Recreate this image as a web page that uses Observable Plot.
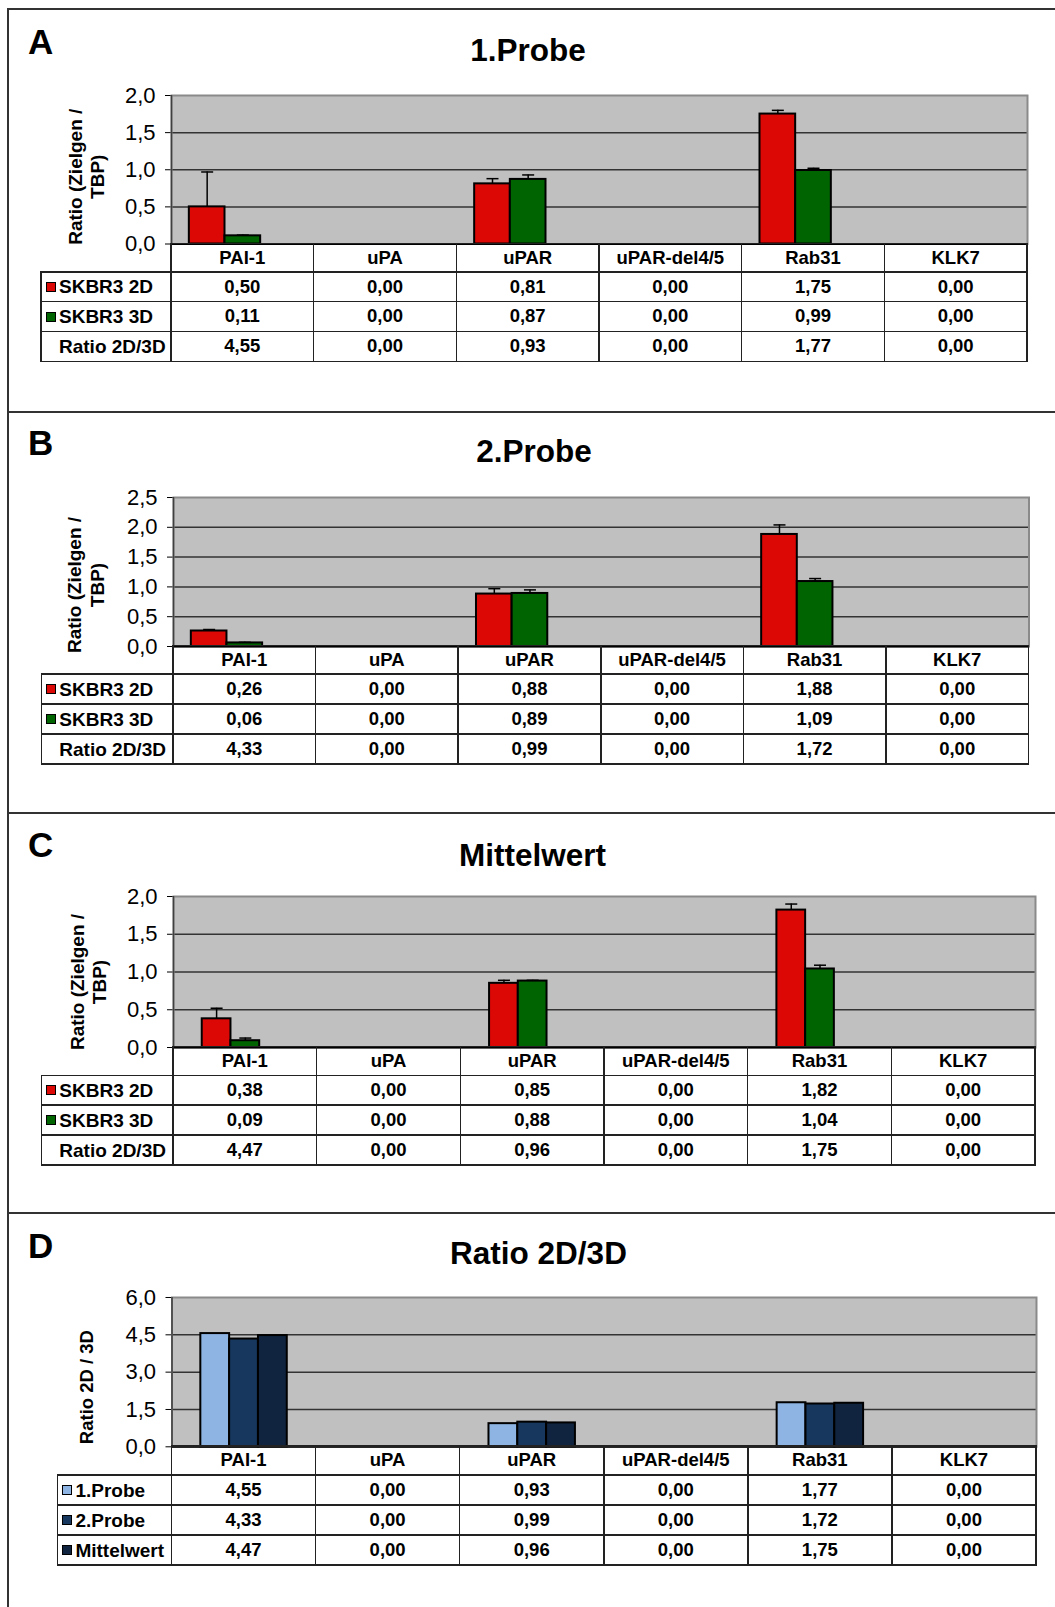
<!DOCTYPE html>
<html>
<head>
<meta charset="utf-8">
<script src="https://cdn.jsdelivr.net/npm/d3@7"></script>
<script src="https://cdn.jsdelivr.net/npm/@observablehq/plot@0.6"></script>
<style>
html, body { margin: 0; padding: 0; background: #fff; }
#page { position: relative; width: 1055px; height: 1607px; overflow: hidden;
        font-family: "Liberation Sans", Arial, sans-serif; color: #000; }
.abs { position: absolute; }
.letter { position: absolute; font-weight: bold; font-size: 35px; line-height: 1; white-space: nowrap; }
.title { position: absolute; font-weight: bold; font-size: 31.5px; line-height: 1; white-space: nowrap; transform: translateX(-50%); }
.line { position: absolute; background: #222; }
.frameline { position: absolute; background: #333; }
.cell { position: absolute; display: flex; align-items: center; justify-content: center;
        font-weight: bold; font-size: 18.5px; line-height: 1; white-space: nowrap; }
.rowlabel { justify-content: flex-start; font-size: 19px; }
.key { display: inline-block; width: 8px; height: 8px; border: 1.5px solid #000; margin-right: 3px; flex: none; }
</style>
</head>
<body>
<div id="page"></div>
<script>
// ---------------- data ----------------
const categories = ["PAI-1", "uPA", "uPAR", "uPAR-del4/5", "Rab31", "KLK7"];

// A – 1.Probe
const probe1_2D     = [0.50, 0.00, 0.81, 0.00, 1.75, 0.00];
const probe1_3D     = [0.11, 0.00, 0.87, 0.00, 0.99, 0.00];
const probe1_ratio  = [4.55, 0.00, 0.93, 0.00, 1.77, 0.00];
const probe1_2D_err = [0.47, 0.00, 0.07, 0.00, 0.05, 0.00];
const probe1_3D_err = [0.01, 0.00, 0.06, 0.00, 0.03, 0.00];

// B – 2.Probe
const probe2_2D     = [0.26, 0.00, 0.88, 0.00, 1.88, 0.00];
const probe2_3D     = [0.06, 0.00, 0.89, 0.00, 1.09, 0.00];
const probe2_ratio  = [4.33, 0.00, 0.99, 0.00, 1.72, 0.00];
const probe2_2D_err = [0.025, 0.00, 0.09, 0.00, 0.16, 0.00];
const probe2_3D_err = [0.01, 0.00, 0.06, 0.00, 0.05, 0.00];

// C – Mittelwert
const mean_2D       = [0.38, 0.00, 0.85, 0.00, 1.82, 0.00];
const mean_3D       = [0.09, 0.00, 0.88, 0.00, 1.04, 0.00];
const mean_ratio    = [4.47, 0.00, 0.96, 0.00, 1.75, 0.00];
const mean_2D_err   = [0.14, 0.00, 0.04, 0.00, 0.08, 0.00];
const mean_3D_err   = [0.035, 0.00, 0.01, 0.00, 0.05, 0.00];

// D – Ratio 2D/3D
const ratio_probe1  = [4.55, 0.00, 0.93, 0.00, 1.77, 0.00];
const ratio_probe2  = [4.33, 0.00, 0.99, 0.00, 1.72, 0.00];
const ratio_mean    = [4.47, 0.00, 0.96, 0.00, 1.75, 0.00];

const seriesNamesABC = ["SKBR3 2D", "SKBR3 3D", "Ratio 2D/3D"];
const seriesNamesD   = ["1.Probe", "2.Probe", "Mittelwert"];
const panelLetters   = ["A", "B", "C", "D"];
const panelTitles    = ["1.Probe", "2.Probe", "Mittelwert", "Ratio 2D/3D"];
const yLabelABC      = "Ratio (Zielgen /\nTBP)";
const yLabelD        = "Ratio 2D / 3D";
const yTicksA        = [0, 0.5, 1.0, 1.5, 2.0];
const yTicksB        = [0, 0.5, 1.0, 1.5, 2.0, 2.5];
const yTicksC        = [0, 0.5, 1.0, 1.5, 2.0];
const yTicksD        = [0, 1.5, 3.0, 4.5, 6.0];

// ---------------- styles ----------------
const RED = "#dc0806", GREEN = "#006400";
const BLUE1 = "#8db4e2", BLUE2 = "#17375e", BLUE3 = "#10243f";

const panels = [
  { letter: panelLetters[0], title: panelTitles[0], yLabel: yLabelABC, yTicks: yTicksA, series: [
    { name: seriesNamesABC[0], values: probe1_2D, err: probe1_2D_err, color: RED, plotted: true },
    { name: seriesNamesABC[1], values: probe1_3D, err: probe1_3D_err, color: GREEN, plotted: true },
    { name: seriesNamesABC[2], values: probe1_ratio, err: null, color: null, plotted: false } ] },
  { letter: panelLetters[1], title: panelTitles[1], yLabel: yLabelABC, yTicks: yTicksB, series: [
    { name: seriesNamesABC[0], values: probe2_2D, err: probe2_2D_err, color: RED, plotted: true },
    { name: seriesNamesABC[1], values: probe2_3D, err: probe2_3D_err, color: GREEN, plotted: true },
    { name: seriesNamesABC[2], values: probe2_ratio, err: null, color: null, plotted: false } ] },
  { letter: panelLetters[2], title: panelTitles[2], yLabel: yLabelABC, yTicks: yTicksC, series: [
    { name: seriesNamesABC[0], values: mean_2D, err: mean_2D_err, color: RED, plotted: true },
    { name: seriesNamesABC[1], values: mean_3D, err: mean_3D_err, color: GREEN, plotted: true },
    { name: seriesNamesABC[2], values: mean_ratio, err: null, color: null, plotted: false } ] },
  { letter: panelLetters[3], title: panelTitles[3], yLabel: yLabelD, yTicks: yTicksD, series: [
    { name: seriesNamesD[0], values: ratio_probe1, err: null, color: BLUE1, plotted: true },
    { name: seriesNamesD[1], values: ratio_probe2, err: null, color: BLUE2, plotted: true },
    { name: seriesNamesD[2], values: ratio_mean, err: null, color: BLUE3, plotted: true } ] }
];

// layout (pixel geometry of each panel)
const layouts = [
  { top: 9.3,    letterX: 28, letterBase: 53.3, titleX: 528,   titleBase: 62,    plotLeft: 171,   plotRight: 1027,   plotTop: 95,     plotBottom: 243.5,  labelLeft: 41,   rows: [28.5, 29.7, 29.8, 29.8], barW: 0.25, yLabelCx: 85.5, yLabelDy: 7,  yLabelSize: 19 },
  { top: 411.7,  letterX: 28, letterBase: 455,  titleX: 534,   titleBase: 463,   plotLeft: 173,   plotRight: 1028.5, plotTop: 496.7,  plotBottom: 645.7,  labelLeft: 41.3, rows: [28.3, 30, 30, 30],       barW: 0.25, yLabelCx: 85,   yLabelDy: 13, yLabelSize: 19 },
  { top: 812.7,  letterX: 28, letterBase: 856.5,titleX: 532.6, titleBase: 866.7, plotLeft: 173,   plotRight: 1035,   plotTop: 895.7,  plotBottom: 1046.7, labelLeft: 41.3, rows: [28.6, 29.7, 30, 30],     barW: 0.2,  yLabelCx: 87.6, yLabelDy: 10, yLabelSize: 19 },
  { top: 1213.3, letterX: 28, letterBase: 1258, titleX: 538.5, titleBase: 1265,  plotLeft: 171.5, plotRight: 1036,   plotTop: 1296.7, plotBottom: 1446,   labelLeft: 57.4, rows: [29, 30, 30, 30],         barW: 0.2,  yLabelCx: 85,   yLabelDy: 15, yLabelSize: 18.5 }
];

const fmt1 = d => d.toFixed(1).replace(".", ",");
const fmt2 = d => d.toFixed(2).replace(".", ",");
const capSymbol = { draw(ctx, size) { const r = Math.sqrt(size / Math.PI); ctx.moveTo(-r, 0); ctx.lineTo(r, 0); } };
const FONT = "'Liberation Sans', Arial, sans-serif";

const page = document.getElementById("page");
function el(cls, css, text) {
  const d = document.createElement("div");
  d.className = cls;
  Object.assign(d.style, css);
  if (text != null) d.textContent = text;
  page.appendChild(d);
  return d;
}
const px = v => v + "px";

function makeChart(p, L) {
  const yMax = p.yTicks[p.yTicks.length - 1];
  const nSlots = p.series.length;
  const pad = (1 - nSlots * L.barW) / 2;
  const bars = [];
  p.series.forEach((s, si) => {
    if (!s.plotted) return;
    s.values.forEach((v, ci) => {
      if (v > 0) bars.push({ ci, si, v, err: s.err ? s.err[ci] : 0, color: s.color });
    });
  });
  const x1 = d => d.ci + pad + d.si * L.barW;
  const x2 = d => x1(d) + L.barW;
  const xc = d => x1(d) + L.barW / 2;
  const errBars = bars.filter(d => d.err > 0);
  const mt = 20, mb = 6;
  const h = L.plotBottom - L.plotTop;
  const svg = Plot.plot({
    width: 1055, height: h + mt + mb,
    marginLeft: L.plotLeft, marginRight: 1055 - L.plotRight, marginTop: mt, marginBottom: mb,
    x: { domain: [0, categories.length], axis: null },
    y: { domain: [0, yMax], ticks: p.yTicks, tickFormat: fmt1, tickSize: 6, tickPadding: 10, label: null },
    color: { type: "identity" },
    style: { fontFamily: FONT, fontSize: "22px", color: "#000", background: "transparent", overflow: "visible" },
    marks: [
      Plot.frame({ fill: "#c0c0c0", stroke: "none" }),
      Plot.ruleY(p.yTicks.filter(t => t > 0 && t < yMax), { stroke: "#333", strokeWidth: 1.5 }),
      Plot.frame({ fill: "none", stroke: "#8a8a8a", strokeWidth: 2 }),
      Plot.ruleX([0], { stroke: "#404040", strokeWidth: 1.5 }),
      Plot.ruleY([0], { stroke: "#000", strokeWidth: 2 }),
      Plot.rect(bars, { x1, x2, y1: d => 0, y2: d => d.v, fill: d => d.color, stroke: "#000", strokeWidth: 2 }),
      Plot.ruleX(errBars, { x: xc, y1: d => d.v, y2: d => d.v + d.err, stroke: "#000", strokeWidth: 1.5 }),
      Plot.dot(errBars, { x: xc, y: d => d.v + d.err, symbol: capSymbol, r: 6, fill: "none", stroke: "#000", strokeWidth: 1.5 }),
      Plot.text([p.yLabel], { text: d => d, frameAnchor: "left", rotate: -90,
        dx: L.yLabelCx - L.plotLeft, dy: L.yLabelDy, fontSize: L.yLabelSize, fontWeight: "bold",
        lineHeight: 1.18, textAnchor: "middle", lineAnchor: "middle", fill: "#000" })
    ]
  });
  const wrap = el("abs", { left: "0px", top: px(L.plotTop - mt), width: "1055px" });
  wrap.appendChild(svg);
}

function hline(x1, x2, y, w = 1.5) { el("line", { left: px(x1 - w / 2), top: px(y - w / 2), width: px(x2 - x1 + w), height: px(w) }); }
function vline(x, y1, y2, w = 1.5) { el("line", { left: px(x - w / 2), top: px(y1 - w / 2), width: px(w), height: px(y2 - y1 + w) }); }

function makeTable(p, L) {
  const band = (L.plotRight - L.plotLeft) / categories.length;
  const colX = [L.labelLeft, L.plotLeft, ...categories.map((c, i) => L.plotLeft + (i + 1) * band)];
  const rowY = [L.plotBottom];
  L.rows.forEach(h => rowY.push(rowY[rowY.length - 1] + h));
  categories.forEach((c, i) => el("cell", { left: px(colX[i + 1]), top: px(rowY[0]), width: px(band), height: px(L.rows[0]) }, c));
  p.series.forEach((s, si) => {
    const y = rowY[si + 1], h = L.rows[si + 1];
    const lab = el("cell rowlabel", { left: px(colX[0]), top: px(y), width: px(colX[1] - colX[0]), height: px(h), paddingLeft: "5px", boxSizing: "border-box" });
    const key = document.createElement("span");
    key.className = "key";
    if (s.plotted) key.style.background = s.color; else key.style.borderColor = "transparent";
    lab.appendChild(key);
    lab.appendChild(document.createTextNode(s.name));
    s.values.forEach((v, i) => el("cell", { left: px(colX[i + 1]), top: px(y), width: px(band), height: px(h) }, fmt2(v)));
  });
  rowY.forEach((y, j) => hline(j === 0 ? colX[1] : colX[0], colX[colX.length - 1], y));
  colX.forEach((x, k) => vline(x, k === 0 ? rowY[1] : rowY[0], rowY[rowY.length - 1]));
}

panels.forEach((p, i) => {
  const L = layouts[i];
  makeChart(p, L);
  makeTable(p, L);
  el("letter", { left: px(L.letterX), top: px(L.letterBase - 0.8465 * 35) }, p.letter);
  el("title", { left: px(L.titleX), top: px(L.titleBase - 0.8465 * 31.5) }, p.title);
});

// panel frame lines
layouts.forEach(L => el("frameline", { left: "7.5px", top: px(L.top - 0.9), width: px(1055 - 7.5), height: "1.8px" }));
el("frameline", { left: "7.4px", top: px(layouts[0].top - 0.9), width: "1.8px", height: px(1607 - layouts[0].top + 1) });
</script>
</body>
</html>
